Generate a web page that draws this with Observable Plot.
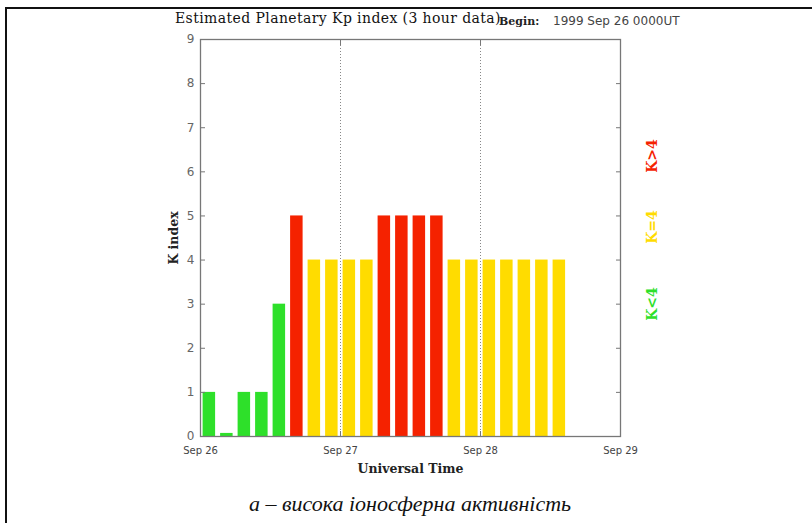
<!DOCTYPE html>
<html><head><meta charset="utf-8">
<script src="https://cdn.jsdelivr.net/npm/d3@7"></script>
<script src="https://cdn.jsdelivr.net/npm/@observablehq/plot@0.6"></script>
<style>
body{margin:0;background:#fff;}
#wrap{position:relative;width:812px;height:523px;overflow:hidden;background:#fff;}
#wrap svg{position:absolute;left:0;top:0;}
.line{position:absolute;background:#111;}
#title{position:absolute;left:175px;top:10px;font:14px "DejaVu Serif",serif;letter-spacing:0.4px;color:#111;white-space:nowrap;}
#begin{position:absolute;left:499px;top:15px;font:bold 11px "DejaVu Serif",serif;color:#222;white-space:nowrap;}
#beginDate{position:absolute;left:553px;top:14px;font:12px "DejaVu Sans",sans-serif;color:#444;white-space:nowrap;}
.lvl{position:absolute;left:652px;font:bold 14px "DejaVu Serif",serif;white-space:nowrap;transform:translate(-50%,-50%) rotate(-90deg);}
#caption{position:absolute;left:0;width:820px;top:491px;text-align:center;font:italic 22px "Liberation Serif","Times New Roman",serif;color:#111;white-space:nowrap;}
svg [aria-label="y-axis tick label"] text{font:12px "DejaVu Sans",sans-serif;fill:#666;}
svg [aria-label="x-axis tick label"] text{font:10px "DejaVu Sans",sans-serif;fill:#444;}
svg [aria-label="y-axis label"] text, svg [aria-label="x-axis label"] text{font:bold 12.5px "DejaVu Serif",serif;fill:#222;}
</style></head><body><div id="wrap"></div>
<script>
// ---- data ----
const titleText = "Estimated Planetary Kp index (3 hour data)";
const beginLabel = "Begin:";
const beginDate = "1999 Sep 26 0000UT";
const startTime = "1999-09-26T00:00:00Z";
const binHours = 3;
const kpValues = [1, 0, 1, 1, 3, 5, 4, 4, 4, 4, 5, 5, 5, 5, 4, 4, 4, 4, 4, 4, 4];
const dayTicks = ["1999-09-26", "1999-09-27", "1999-09-28", "1999-09-29"];
const gridDays = ["1999-09-27", "1999-09-28"];
const yTicks = [0, 1, 2, 3, 4, 5, 6, 7, 8, 9];
const levelLabels = ["K<4", "K=4", "K>4"];
const levelColors = ["#2ee02a", "#ffdc00", "#f52200"];
const yLabel = "K index";
const xLabel = "Universal Time";
const captionText = "а – висока іоносферна активність";

// ---- build ----
const t0 = new Date(startTime).getTime();
const H = 3600 * 1000;
const rows = kpValues.map((v, i) => ({
  t1: new Date(t0 + i * binHours * H),
  t2: new Date(t0 + (i + 1) * binHours * H),
  kp: v,
  level: v < 4 ? 0 : v === 4 ? 1 : 2
}));
const days = dayTicks.map(d => new Date(d + "T00:00:00Z"));
const grid = gridDays.map(d => new Date(d + "T00:00:00Z"));

const chart = Plot.plot({
  width: 812,
  height: 523,
  marginLeft: 200,
  marginRight: 192,
  marginTop: 39,
  marginBottom: 87,
  style: {background: "transparent", overflow: "visible"},
  x: {type: "utc", domain: [days[0], days[days.length - 1]]},
  y: {domain: [0, 9]},
  marks: [
    Plot.ruleX(grid, {stroke: "#888", strokeDasharray: "1,2"}),
    Plot.rectY(rows, {
      x1: "t1", x2: "t2", y1: 0,
      y2: d => Math.max(d.kp, 0.07),
      fill: d => levelColors[d.level],
      insetLeft: 2.6, insetRight: 2.4
    }),
    Plot.frame({stroke: "#777", strokeWidth: 1.3}),
    Plot.axisY({anchor: "left", ticks: yTicks, tickSize: -5, tickPadding: 11, stroke: "#777",
      label: yLabel, labelAnchor: "center", labelArrow: "none", labelOffset: 31}),
    Plot.axisY({anchor: "right", ticks: yTicks, tickSize: -5, stroke: "#777", tickFormat: () => "", label: null}),
    Plot.axisX({anchor: "top", ticks: days, tickSize: -5, stroke: "#777", tickFormat: () => "", label: null}),
    Plot.axisX({anchor: "bottom", ticks: days, tickSize: -5, tickPadding: 15, stroke: "#777",
      tickFormat: d3.utcFormat("%b %-d"),
      label: xLabel, labelAnchor: "center", labelArrow: "none", labelOffset: 36})
  ]
});

const wrap = document.getElementById("wrap");
wrap.appendChild(chart);

function addDiv(id, cls, text, style) {
  const el = document.createElement("div");
  if (id) el.id = id;
  if (cls) el.className = cls;
  if (text) el.textContent = text;
  if (style) Object.assign(el.style, style);
  wrap.appendChild(el);
  return el;
}
// figure border (top and left)
addDiv(null, "line", null, {left: "5px", top: "7px", width: "807px", height: "2px"});
addDiv(null, "line", null, {left: "5px", top: "7px", width: "2px", height: "516px"});
addDiv("title", null, titleText);
addDiv("begin", null, beginLabel);
addDiv("beginDate", null, beginDate);
const lvlCenters = ["304px", "227px", "156px"];
levelLabels.forEach((t, i) => addDiv(null, "lvl", t, {top: lvlCenters[i], color: levelColors[i]}));
addDiv("caption", null, captionText);
</script></body></html>
